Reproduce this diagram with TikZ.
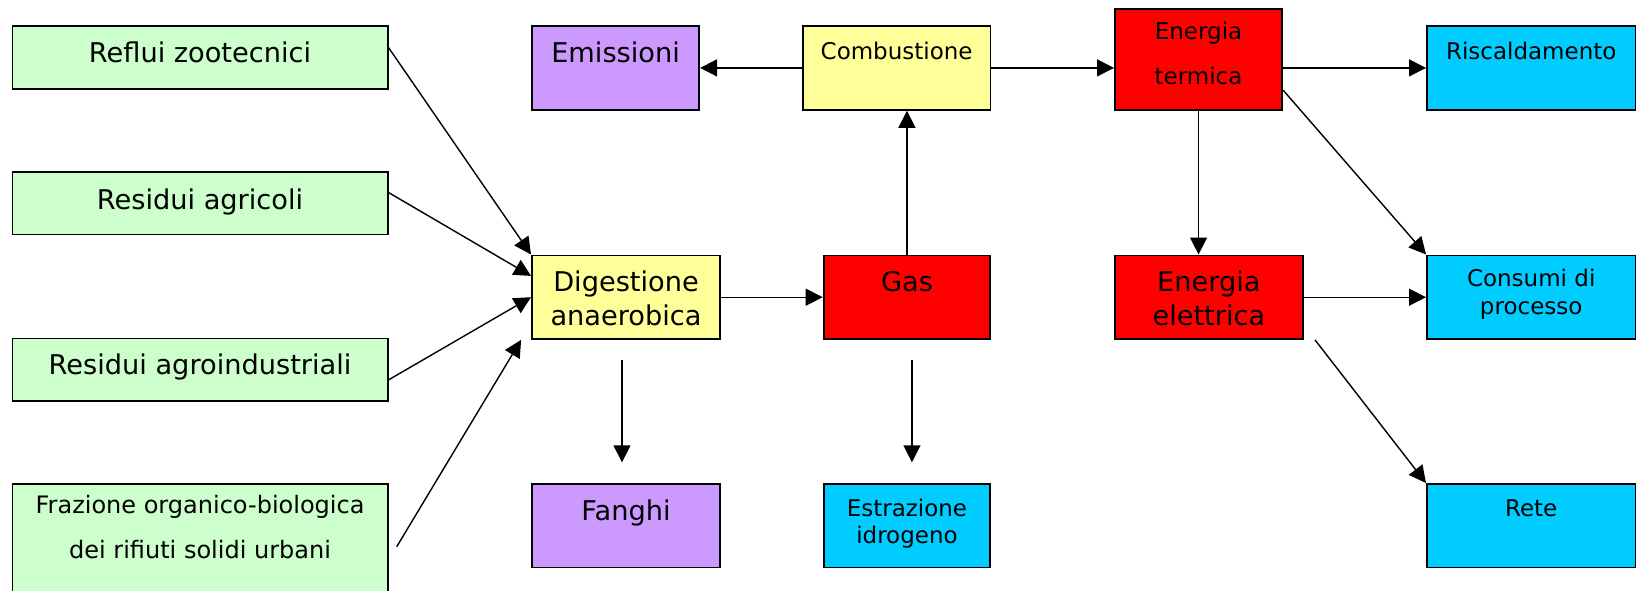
\documentclass[tikz,border=0pt]{standalone}
\usepackage{fontspec}
\setmainfont{DejaVu Sans}
\usepackage{tikz}
\usetikzlibrary{arrows.meta}
\definecolor{verde}{HTML}{CCFFCC}
\definecolor{viola}{HTML}{CC99FF}
\definecolor{giallo}{HTML}{FFFF99}
\definecolor{rosso}{HTML}{FF0000}
\definecolor{azzurro}{HTML}{00CCFF}
\newcommand{\duerighe}[2]{\begin{tabular}[t]{@{}c@{}}#1\\#2\end{tabular}}
\tikzset{
    %Define standard arrow tip
    >={Triangle[length=8.5pt,width=8.5pt]},
    %Define style for boxes
    blocco/.style={
           rectangle,
           draw=black, line width=0.9pt,
           anchor=north west,
           inner xsep=0pt, inner ysep=0pt,
           text centered},
    grande/.style={font=\fontsize{13.6pt}{17pt}\selectfont},
    piccolo/.style={font=\fontsize{11.5pt}{14pt}\selectfont},
    hd/.style 2 args={text height=#1, text depth=#2},
    sorgente/.style={
           blocco, grande,
           fill=verde,
           minimum width=187.65pt},
    scarto/.style={
           blocco, grande,
           fill=viola},
    processo/.style={
           blocco,
           fill=giallo},
    vettore/.style={
           blocco,
           fill=rosso},
    uso/.style={
           blocco, piccolo,
           fill=azzurro},
    % Define arrow style
    freccia/.style={
           ->,
           line width=0.7pt}
}

\begin{document}
\begin{tikzpicture}[x=0.5pt,y=-0.5pt]
\useasboundingbox (0,0) rectangle (1639,590);
 %nodes
\node[sorgente, hd={18.35pt}{13pt}] (reflui) at (11.5,25) {Reflui zootecnici};
\node[sorgente, hd={18.6pt}{12.65pt}] (agricoli) at (11.5,171) {Residui agricoli};
\node[sorgente, hd={17.9pt}{13.35pt}] (agroind) at (11.5,337.5) {Residui agroindustriali};
\node[sorgente, hd={14.7pt}{47.8pt}, font=\fontsize{12pt}{22.7pt}\selectfont] (fraz) at (11.5,483)
   {\duerighe{Frazione organico-biologica}{dei rifiuti solidi urbani}};
\node[scarto, minimum width=83.65pt, hd={18.35pt}{23.65pt}] (emis) at (531,25) {Emissioni};
\node[processo, piccolo, minimum width=93.75pt, hd={16.65pt}{25.35pt}] (comb) at (802,25) {Combustione};
\node[vettore, minimum width=83.65pt, hd={15pt}{35.35pt}, font=\fontsize{11.5pt}{22.5pt}\selectfont] (term) at (1114,8.3)
   {\duerighe{Energia}{termica}};
\node[uso, minimum width=104.3pt, hd={16.65pt}{25.35pt}] (risc) at (1426,25) {Riscaldamento};
\node[processo, grande, minimum width=94.1pt, hd={18.25pt}{23.55pt}] (dig) at (531,254.5)
   {\duerighe{Digestione}{anaerobica}};
\node[vettore, grande, minimum width=83.35pt, hd={18.1pt}{23.7pt}] (gas) at (822.7,254.5) {Gas};
\node[vettore, grande, minimum width=94pt, hd={17.9pt}{23.9pt}] (elet) at (1114,254.5)
   {\duerighe{Energia}{elettrica}};
\node[uso, minimum width=104.3pt, hd={15.3pt}{26.5pt}, font=\fontsize{11.5pt}{14.2pt}\selectfont] (cons) at (1426,254.5)
   {\duerighe{Consumi di}{processo}};
\node[scarto, minimum width=94.1pt, hd={18.5pt}{23.3pt}] (fang) at (531,483) {Fanghi};
\node[uso, minimum width=83.35pt, hd={16.5pt}{25.3pt}, font=\fontsize{11.5pt}{13.3pt}\selectfont] (estr) at (822.7,483)
   {\duerighe{Estrazione}{idrogeno}};
\node[uso, minimum width=104.3pt, hd={16.5pt}{25.3pt}] (rete) at (1426,483) {Rete};
 %free ends
\coordinate (fzA) at ([xshift=4.05pt,yshift=-31.85pt]fraz.north east);
\coordinate (fzB) at ([xshift=-4.95pt]dig.south west);
\coordinate (fgA) at ([xshift=-2pt,yshift=-10.1pt]dig.south);
\coordinate (fgB) at ([xshift=-2pt,yshift=10.35pt]fang.north);
\coordinate (esA) at ([xshift=2.5pt,yshift=-10.1pt]gas.south);
\coordinate (esB) at ([xshift=2.5pt,yshift=10.35pt]estr.north);
\coordinate (reA) at ([xshift=5.6pt]elet.south east);
 %arrows
\draw[freccia] ([yshift=4.8pt]reflui.east) -- (dig.north west);
\draw[freccia] ([yshift=5.3pt]agricoli.east) -- ([yshift=10.65pt]dig.west);
\draw[freccia] ([yshift=-5.1pt]agroind.east) -- (dig.west);
\draw[freccia] (fzA) -- (fzB);
\draw[freccia] (dig.east) -- (gas.west);
\draw[freccia] (gas.north) -- (gas.north |- comb.south);
\draw[freccia] (comb.west) -- (emis.east);
\draw[freccia] (comb.east) -- (comb.east -| term.west);
\draw[freccia] (term.east |- risc.west) -- (risc.west);
\draw[freccia] (term.south) -- (term.south |- elet.north);
\draw[freccia] ([yshift=-15.3pt]term.east) -- (cons.north west);
\draw[freccia] (elet.east) -- (cons.west);
\draw[freccia] (reA) -- (rete.north west);
\draw[freccia] (fgA) -- (fgB);
\draw[freccia] (esA) -- (esB);
\end{tikzpicture}
\end{document}
